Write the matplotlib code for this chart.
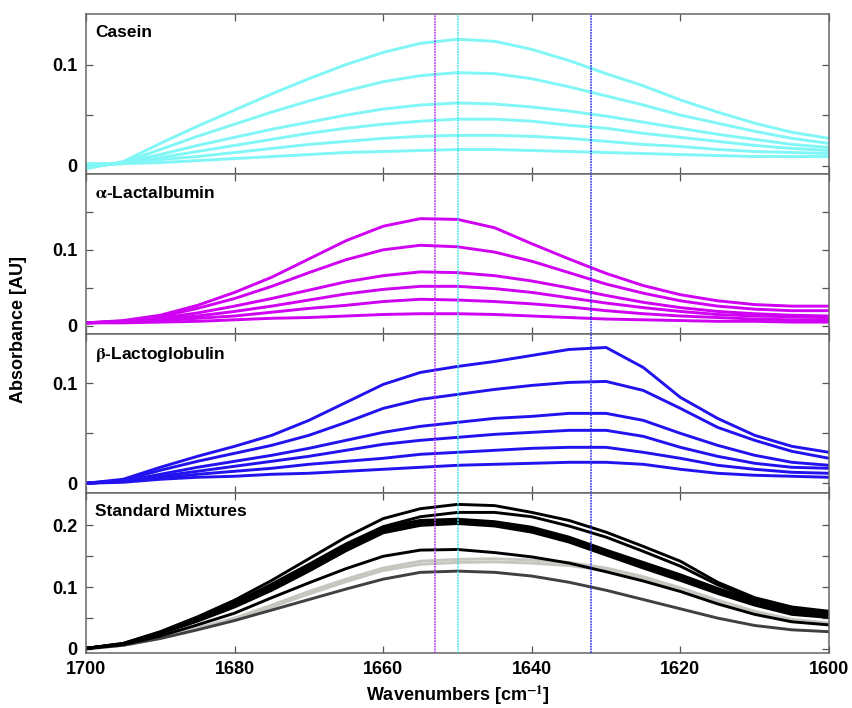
import numpy as np
import matplotlib
matplotlib.use("Agg")
import matplotlib.pyplot as plt

plt.rcParams['font.family'] = ['Liberation Sans', 'DejaVu Sans']
plt.rcParams['font.weight'] = 'bold'
plt.rcParams['mathtext.fontset'] = 'stix'

# wavenumber grid (cm^-1), 1700 -> 1600
wn = np.arange(1700, 1599, -5)

# Casein series
casein = [
    [-0.003, 0.004, 0.022, 0.039, 0.055, 0.071, 0.086, 0.100, 0.112, 0.121, 0.125, 0.123, 0.115, 0.104, 0.091, 0.079, 0.065, 0.053, 0.042, 0.033, 0.027],
    [-0.002, 0.003, 0.016, 0.029, 0.041, 0.053, 0.064, 0.074, 0.083, 0.089, 0.092, 0.091, 0.086, 0.078, 0.069, 0.060, 0.050, 0.042, 0.034, 0.027, 0.022],
    [-0.001, 0.003, 0.011, 0.020, 0.028, 0.036, 0.043, 0.050, 0.056, 0.060, 0.062, 0.061, 0.058, 0.054, 0.049, 0.043, 0.037, 0.031, 0.026, 0.021, 0.018],
    [0.000, 0.002, 0.008, 0.014, 0.020, 0.026, 0.032, 0.037, 0.041, 0.044, 0.046, 0.046, 0.044, 0.040, 0.037, 0.032, 0.028, 0.024, 0.020, 0.017, 0.015],
    [0.001, 0.002, 0.006, 0.009, 0.013, 0.017, 0.021, 0.024, 0.027, 0.029, 0.030, 0.030, 0.029, 0.027, 0.024, 0.021, 0.019, 0.016, 0.014, 0.013, 0.012],
    [0.002, 0.002, 0.003, 0.005, 0.007, 0.009, 0.011, 0.013, 0.014, 0.015, 0.016, 0.016, 0.015, 0.014, 0.013, 0.012, 0.011, 0.010, 0.009, 0.009, 0.009],
]

# alpha-lactalbumin series
lactalbumin = [
    [0.004, 0.007, 0.014, 0.027, 0.044, 0.064, 0.088, 0.112, 0.131, 0.141, 0.140, 0.129, 0.108, 0.088, 0.069, 0.053, 0.041, 0.033, 0.028, 0.026, 0.026],
    [0.004, 0.006, 0.012, 0.023, 0.036, 0.052, 0.070, 0.087, 0.100, 0.106, 0.104, 0.097, 0.085, 0.070, 0.055, 0.043, 0.033, 0.026, 0.022, 0.020, 0.020],
    [0.004, 0.006, 0.010, 0.017, 0.026, 0.036, 0.047, 0.058, 0.066, 0.071, 0.070, 0.066, 0.059, 0.050, 0.040, 0.031, 0.024, 0.019, 0.016, 0.014, 0.013],
    [0.004, 0.005, 0.008, 0.013, 0.019, 0.026, 0.034, 0.042, 0.048, 0.052, 0.052, 0.049, 0.044, 0.037, 0.030, 0.024, 0.019, 0.015, 0.013, 0.012, 0.011],
    [0.004, 0.005, 0.007, 0.010, 0.013, 0.018, 0.023, 0.027, 0.032, 0.035, 0.034, 0.032, 0.029, 0.025, 0.020, 0.016, 0.013, 0.011, 0.009, 0.008, 0.008],
    [0.004, 0.004, 0.005, 0.006, 0.008, 0.010, 0.011, 0.013, 0.015, 0.016, 0.016, 0.015, 0.013, 0.011, 0.009, 0.008, 0.007, 0.006, 0.006, 0.005, 0.005],
]

# beta-lactoglobulin series
lactoglobulin = [
    [0.000, 0.004, 0.016, 0.027, 0.037, 0.048, 0.063, 0.081, 0.099, 0.111, 0.117, 0.122, 0.128, 0.134, 0.136, 0.116, 0.086, 0.065, 0.048, 0.037, 0.031],
    [0.000, 0.003, 0.013, 0.022, 0.030, 0.038, 0.048, 0.061, 0.075, 0.084, 0.089, 0.094, 0.098, 0.101, 0.102, 0.093, 0.075, 0.056, 0.043, 0.032, 0.025],
    [0.000, 0.002, 0.009, 0.016, 0.022, 0.028, 0.035, 0.043, 0.051, 0.057, 0.061, 0.065, 0.067, 0.070, 0.070, 0.063, 0.050, 0.038, 0.028, 0.021, 0.018],
    [0.000, 0.002, 0.007, 0.012, 0.017, 0.022, 0.027, 0.033, 0.039, 0.043, 0.046, 0.049, 0.051, 0.053, 0.053, 0.047, 0.036, 0.027, 0.020, 0.016, 0.015],
    [0.000, 0.002, 0.005, 0.009, 0.012, 0.015, 0.019, 0.022, 0.025, 0.029, 0.031, 0.033, 0.035, 0.036, 0.036, 0.031, 0.025, 0.018, 0.014, 0.011, 0.010],
    [0.000, 0.001, 0.004, 0.006, 0.007, 0.009, 0.010, 0.012, 0.014, 0.016, 0.018, 0.019, 0.020, 0.021, 0.021, 0.019, 0.014, 0.010, 0.008, 0.007, 0.006],
]

# standard mixtures (black)
mix_black = [
    [0.001, 0.009, 0.028, 0.052, 0.079, 0.111, 0.146, 0.181, 0.211, 0.227, 0.234, 0.232, 0.221, 0.208, 0.189, 0.166, 0.142, 0.108, 0.083, 0.068, 0.061],
    [0.001, 0.009, 0.027, 0.049, 0.075, 0.105, 0.137, 0.170, 0.198, 0.214, 0.221, 0.221, 0.214, 0.199, 0.181, 0.158, 0.134, 0.104, 0.080, 0.065, 0.058],
    [0.001, 0.008, 0.027, 0.048, 0.074, 0.101, 0.134, 0.168, 0.197, 0.208, 0.210, 0.206, 0.197, 0.181, 0.160, 0.140, 0.120, 0.098, 0.078, 0.063, 0.057],
    [0.001, 0.008, 0.026, 0.047, 0.071, 0.099, 0.131, 0.165, 0.194, 0.205, 0.207, 0.204, 0.195, 0.179, 0.158, 0.137, 0.117, 0.095, 0.075, 0.060, 0.055],
    [0.001, 0.008, 0.026, 0.046, 0.070, 0.097, 0.129, 0.162, 0.191, 0.203, 0.205, 0.202, 0.192, 0.176, 0.155, 0.134, 0.114, 0.093, 0.073, 0.058, 0.053],
    [0.001, 0.008, 0.025, 0.045, 0.068, 0.095, 0.126, 0.159, 0.188, 0.200, 0.203, 0.199, 0.189, 0.173, 0.152, 0.131, 0.111, 0.090, 0.071, 0.056, 0.051],
    [0.001, 0.007, 0.021, 0.039, 0.058, 0.083, 0.107, 0.130, 0.150, 0.160, 0.161, 0.156, 0.149, 0.139, 0.125, 0.110, 0.093, 0.073, 0.056, 0.044, 0.039],
]
# standard mixtures (light gray)
mix_gray = [
    [0.001, 0.006, 0.018, 0.034, 0.050, 0.071, 0.093, 0.113, 0.131, 0.142, 0.145, 0.146, 0.144, 0.140, 0.131, 0.117, 0.099, 0.079, 0.061, 0.048, 0.042],
    [0.001, 0.006, 0.017, 0.033, 0.048, 0.068, 0.089, 0.109, 0.127, 0.137, 0.140, 0.141, 0.139, 0.135, 0.127, 0.113, 0.096, 0.076, 0.058, 0.045, 0.039],
]
# standard mixtures (dark gray)
mix_dark = [
    [0.000, 0.006, 0.017, 0.031, 0.046, 0.063, 0.080, 0.097, 0.113, 0.124, 0.126, 0.124, 0.118, 0.108, 0.095, 0.080, 0.065, 0.050, 0.038, 0.031, 0.028],
]

marker_lines = [(1653, '#b833ee'), (1650, '#44e0e6'), (1632, '#2f2ff0')]

panel_titles = ['Casein', r'$\mathrm{\alpha}$-Lactalbumin', r'$\mathrm{\beta}$-Lactoglobulin', 'Standard Mixtures']
ylims = [(-0.008, 0.15), (-0.01, 0.2), (-0.01, 0.15), (-0.0065, 0.252)]
yticks = [[0, 0.05, 0.1], [0, 0.05, 0.1, 0.15], [0, 0.05, 0.1], [0, 0.05, 0.1, 0.15, 0.2]]
ylabels = [['0', '', '0.1'], ['0', '', '0.1', ''], ['0', '', '0.1'], ['0', '', '0.1', '', '0.2']]

fig = plt.figure(figsize=(8.52, 7.08), dpi=100)
left, width = 86 / 852, 743 / 852
top_px, h_px = 14, 159.75

axes = []
for i in range(4):
    bottom = 1 - (top_px + (i + 1) * h_px) / 708
    ax = fig.add_axes([left, bottom, width, h_px / 708])
    axes.append(ax)

lw = 2.1
for c in casein:
    axes[0].plot(wn, c, color='#80f6f6', lw=lw, solid_capstyle='butt', solid_joinstyle='round')
for c in lactalbumin:
    axes[1].plot(wn, c, color='#d000f2', lw=lw, solid_capstyle='butt', solid_joinstyle='round')
for c in lactoglobulin:
    axes[2].plot(wn, c, color='#2212ee', lw=lw, solid_capstyle='butt', solid_joinstyle='round')
for c in mix_gray:
    axes[3].plot(wn, c, color='#c6c6c0', lw=lw, solid_capstyle='butt', solid_joinstyle='round')
for c in mix_dark:
    axes[3].plot(wn, c, color='#404040', lw=lw, solid_capstyle='butt', solid_joinstyle='round')
for c in mix_black:
    axes[3].plot(wn, c, color='black', lw=lw, solid_capstyle='butt', solid_joinstyle='round')

for i, ax in enumerate(axes):
    ax.set_xlim(1700, 1600)
    ax.set_ylim(*ylims[i])
    ax.set_xticks([1700, 1680, 1660, 1640, 1620, 1600])
    ax.set_yticks(yticks[i])
    ax.set_yticklabels(ylabels[i])
    ax.tick_params(direction='in', length=5, width=0.9, color='#555555',
                   top=True, right=True, labelsize=13, pad=6)
    for s in ax.spines.values():
        s.set_color('#666666')
        s.set_linewidth(1.1)
    for x, col in marker_lines:
        ax.axvline(x, color=col, lw=1.1, ls=(0, (1.2, 0.6)), zorder=5)
    ax.text(0.012, 0.93, panel_titles[i], transform=ax.transAxes,
            fontsize=12.5, fontweight='bold', va='top', ha='left')
    if i < 3:
        ax.tick_params(labelbottom=False)

axes[3].set_xlabel(r'Wavenumbers [cm$^{\mathbf{-1}}$]', fontsize=13, fontweight='bold', labelpad=4)
fig.text(0.022, 0.535, 'Absorbance [AU]', rotation=90, fontsize=13, fontweight='bold',
         ha='center', va='center')

fig.savefig('out.png', dpi=100)
